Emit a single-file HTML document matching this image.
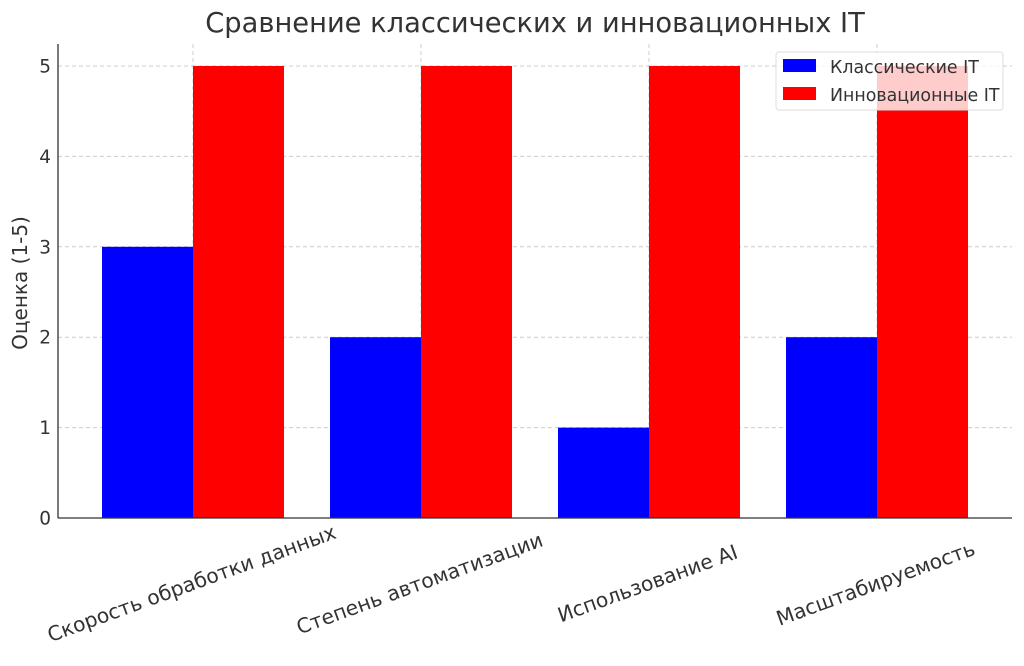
<!DOCTYPE html><html><head><style>body{margin:0;background:#fff}</style></head><body>
<svg width="1024" height="661" xmlns="http://www.w3.org/2000/svg" font-family="DejaVu Sans, sans-serif">
<rect width="1024" height="661" fill="#fff"/>
<text x="535" y="32" font-size="27.3" text-anchor="middle" fill="#333">Сравнение классических и инновационных IT</text>
<g stroke="#ccc" stroke-dasharray="4,3" stroke-width="1">
<line x1="58" x2="1012" y1="66" y2="66"/><line x1="58" x2="1012" y1="156.4" y2="156.4"/><line x1="58" x2="1012" y1="246.8" y2="246.8"/><line x1="58" x2="1012" y1="337.2" y2="337.2"/><line x1="58" x2="1012" y1="427.6" y2="427.6"/>
<line x1="193" x2="193" y1="44" y2="518"/><line x1="421" x2="421" y1="44" y2="518"/><line x1="649" x2="649" y1="44" y2="518"/><line x1="877" x2="877" y1="44" y2="518"/>
</g>
<g fill="#0000ff"><rect x="102" y="246.8" width="91" height="271.2"/><rect x="330" y="337.2" width="91" height="180.8"/><rect x="558" y="427.6" width="91" height="90.4"/><rect x="786" y="337.2" width="91" height="180.8"/></g>
<g fill="#ff0000"><rect x="193" y="66" width="91" height="452"/><rect x="421" y="66" width="91" height="452"/><rect x="649" y="66" width="91" height="452"/><rect x="877" y="66" width="91" height="452"/></g>
<g stroke="#333" stroke-width="1.3"><line x1="58" x2="58" y1="44" y2="518"/><line x1="58" x2="1012" y1="518" y2="518"/></g>
<g font-size="18.5" fill="#333" text-anchor="end">
<text x="51" y="524.5">0</text><text x="51" y="434">1</text><text x="51" y="343.7">2</text><text x="51" y="253.3">3</text><text x="51" y="162.9">4</text><text x="51" y="72.5">5</text></g>
<text transform="translate(27,283) rotate(-90)" font-size="20" fill="#333" text-anchor="middle">Оценка (1-5)</text>
<g font-size="20.3" fill="#333" text-anchor="middle">
<text transform="translate(194,590) rotate(-20)">Скорость обработки данных</text>
<text transform="translate(422,590) rotate(-20)">Степень автоматизации</text>
<text transform="translate(650,590) rotate(-20)">Использование AI</text>
<text transform="translate(878,590) rotate(-20)">Масштабируемость</text>
</g>
<rect x="776" y="52" width="227" height="58" rx="3" fill="#fff" fill-opacity="0.8" stroke="#ddd"/>
<rect x="783" y="59" width="33" height="13" fill="#0000ff"/>
<rect x="783" y="87" width="33" height="13" fill="#ff0000"/>
<text x="830" y="73" font-size="17.4" fill="#333">Классические IT</text>
<text x="830" y="101" font-size="17.4" fill="#333">Инновационные IT</text>
</svg></body></html>
